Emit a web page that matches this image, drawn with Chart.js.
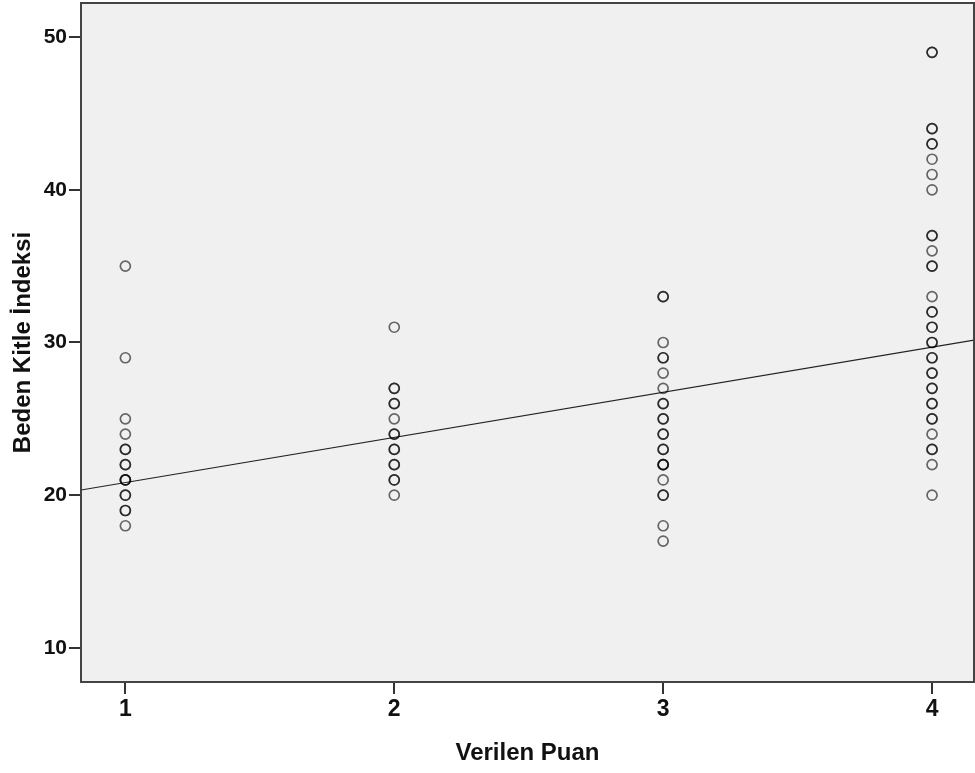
<!DOCTYPE html>
<html>
<head>
<meta charset="utf-8">
<script src="https://cdn.jsdelivr.net/npm/chart.js@4"></script>
<style>
  html, body { margin: 0; padding: 0; background: #fff; }
  #wrap { width: 975px; height: 773px; }
</style>
</head>
<body>
<div id="wrap"><canvas id="chart"></canvas></div>
<script>
// values (repeated values = overlapping darker circles)
const categories = [1, 2, 3, 4];
const puan1 = [35, 29, 25, 24, 23, 23, 22, 22, 21, 21, 21, 20, 20, 19, 19, 18];
const puan2 = [31, 27, 27, 26, 26, 25, 24, 24, 23, 23, 22, 22, 21, 21, 20];
const puan3 = [33, 33, 30, 29, 29, 28, 27, 26, 26, 25, 25, 24, 24, 23, 23, 22, 22, 22, 21, 20, 20, 18, 17];
const puan4 = [49, 49, 44, 44, 43, 43, 42, 41, 40, 37, 37, 36, 35, 35, 33, 32, 32, 31, 31, 30, 30, 29, 29, 28, 28, 27, 27, 26, 26, 25, 25, 24, 23, 23, 22, 20];
const fitX = [0.835, 4.156];
const fitY = [20.34, 30.16];
const xTicks = [1, 2, 3, 4];
const yTicks = [10, 20, 30, 40, 50];

const groups = [puan1, puan2, puan3, puan4];
const points = [];
groups.forEach((vals, i) => {
  vals.forEach(v => points.push({ x: categories[i], y: v }));
});
const fitLine = fitX.map((x, i) => ({ x, y: fitY[i] }));

const plotFrame = {
  id: 'plotFrame',
  beforeDatasetsDraw(chart) {
    const { ctx, chartArea: a } = chart;
    ctx.save();
    ctx.fillStyle = '#f0f0f0';
    ctx.fillRect(a.left, a.top, a.right - a.left, a.bottom - a.top);
    ctx.restore();
  },
  afterDatasetsDraw(chart) {
    const { ctx, chartArea: a } = chart;
    ctx.save();
    ctx.strokeStyle = '#444';
    ctx.lineWidth = 2;
    ctx.strokeRect(a.left, a.top, a.right - a.left, a.bottom - a.top);
    ctx.restore();
  }
};

function noPad(s) {
  s.paddingTop = 0;
  s.paddingBottom = 0;
  s.paddingLeft = 0;
  s.paddingRight = 0;
}

new Chart(document.getElementById('chart'), {
  type: 'scatter',
  data: {
    datasets: [
      {
        label: 'Beden Kitle İndeksi',
        data: points,
        pointRadius: 5,
        pointHoverRadius: 5,
        pointBorderWidth: 1.7,
        pointBorderColor: 'rgba(0,0,0,0.58)',
        pointBackgroundColor: 'rgba(0,0,0,0)'
      },
      {
        type: 'line',
        label: 'fit',
        data: fitLine,
        borderColor: '#222',
        borderWidth: 1.2,
        pointRadius: 0,
        fill: false
      }
    ]
  },
  options: {
    responsive: true,
    maintainAspectRatio: false,
    animation: false,
    layout: { autoPadding: false, padding: { top: 3, right: 1, left: 0, bottom: 0 } },
    plugins: {
      legend: { display: false },
      tooltip: { enabled: false }
    },
    scales: {
      x: {
        type: 'linear',
        min: 0.835,
        max: 4.156,
        afterBuildTicks: s => { s.ticks = xTicks.map(v => ({ value: v })); },
        afterFit: s => { s.height = 91; noPad(s); },
        grid: { drawOnChartArea: false, drawTicks: true, tickLength: 12, color: '#333', lineWidth: 2 },
        border: { display: false },
        ticks: { color: '#111', padding: 2, font: { family: 'Liberation Sans', size: 23, weight: 'bold' } },
        title: {
          display: true,
          text: 'Verilen Puan',
          color: '#111',
          padding: { top: 0, bottom: 5 },
          font: { family: 'Liberation Sans', size: 24, weight: 'bold' }
        }
      },
      y: {
        min: 7.77,
        max: 52.23,
        afterBuildTicks: s => { s.ticks = yTicks.map(v => ({ value: v })); },
        afterFit: s => { s.width = 81; noPad(s); },
        grid: { drawOnChartArea: false, drawTicks: true, tickLength: 12, color: '#333', lineWidth: 2 },
        border: { display: false },
        ticks: { color: '#111', padding: 2, font: { family: 'Liberation Sans', size: 21, weight: 'bold' } },
        title: {
          display: true,
          text: 'Beden Kitle İndeksi',
          color: '#111',
          padding: { top: 9, bottom: 0 },
          font: { family: 'Liberation Sans', size: 24, weight: 'bold' }
        }
      }
    }
  },
  plugins: [plotFrame]
});
</script>
</body>
</html>
